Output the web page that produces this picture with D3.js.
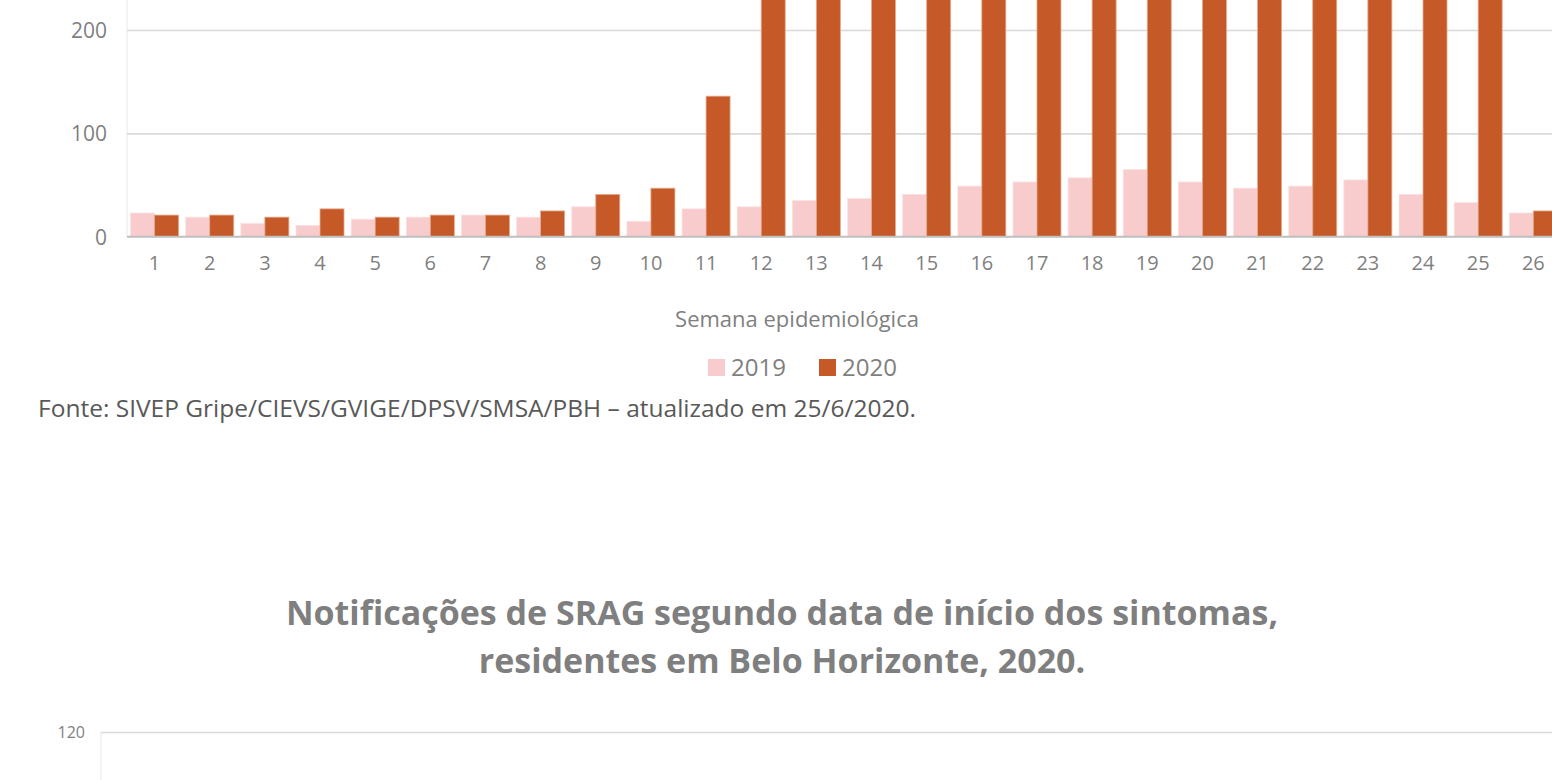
<!DOCTYPE html>
<html>
<head>
<meta charset="utf-8">
<script src="https://cdn.jsdelivr.net/npm/d3@7"></script>
<style>
  html, body { margin: 0; padding: 0; background: #fff; overflow: hidden; }
  svg { display: block; font-family: "Open Sans", sans-serif; }
</style>
</head>
<body>
<div id="chart"></div>
<script>
// Semanas epidemiológicas 1..26
const weeks = d3.range(1, 27).map(String);
const seriesNames = ['2019', '2020'];

// notificações por semana
const values2019 = [23, 19, 13, 11, 17, 19, 21, 19, 29, 15, 27, 29, 35, 37, 41, 49, 53, 57, 65, 53, 47, 49, 55, 41, 33, 23];
// semanas 12-25 de 2020 saem do topo da imagem: valores estimados
const values2020 = [21, 21, 19, 27, 19, 21, 21, 25, 41, 47, 136, 330, 420, 390, 380, 400, 420, 440, 470, 460, 480, 500, 520, 510, 440, 25];

const yTicks = [0, 100, 200, 300, 400, 500, 600];
const yTicks2 = [0, 20, 40, 60, 80, 100, 120];

const title2 = ['Notificações de SRAG segundo data de início dos sintomas,', 'residentes em Belo Horizonte, 2020.'];
const fonte = 'Fonte: SIVEP Gripe/CIEVS/GVIGE/DPSV/SMSA/PBH – atualizado em 25/6/2020.';

const colors = { '2019': '#F8CBCD', '2020': '#C55A28' };

const width = 1552, height = 780;

const svg = d3.select('#chart').append('svg')
    .attr('width', width)
    .attr('height', height);

// only ticks that fall inside the page
const visible = (scale) => (t) => scale(t) >= 10 && scale(t) <= height - 10;

// --- first chart (partially visible) ---
const plotLeft = 127;
const x = d3.scaleBand()
    .domain(weeks)
    .range([plotLeft, plotLeft + 26 * 55.15])
    .paddingInner(0.13)
    .paddingOuter(0.065);

const xSub = d3.scaleBand()
    .domain(seriesNames)
    .range([0, x.bandwidth()]);

const y = d3.scaleLinear()
    .domain([0, 600])
    .range([236.8, 236.8 - 6 * 103.4]);

// light vertical axis line
svg.append('line')
    .attr('x1', plotLeft).attr('x2', plotLeft)
    .attr('y1', 0).attr('y2', y(0))
    .attr('stroke', '#f0f0f0').attr('stroke-width', 1.5);

// gridlines
const yAxis = d3.axisLeft(y)
    .tickValues(yTicks.filter(visible(y)))
    .tickSize(-(width - plotLeft))
    .tickPadding(20);
const gy = svg.append('g')
    .attr('transform', `translate(${plotLeft},0)`)
    .call(yAxis)
    .attr('font-family', null)
    .attr('font-size', 21);
gy.select('.domain').remove();
gy.selectAll('.tick line')
    .attr('stroke', '#d9d9d9')
    .attr('stroke-width', 1.6);
gy.selectAll('.tick text')
    .attr('fill', '#7f7f7f')
    .attr('dy', '0.35em');
gy.selectAll('.tick').filter(d => d === 0).select('line').remove();

// bars
const rows = weeks.map((w, i) => ({ week: w, '2019': values2019[i], '2020': values2020[i] }));

const groups = svg.append('g').selectAll('g')
    .data(rows)
    .join('g')
    .attr('transform', d => `translate(${x(d.week)},0)`);

groups.selectAll('rect')
    .data(d => seriesNames.map(k => ({ key: k, value: d[k] })))
    .join('rect')
    .attr('x', d => xSub(d.key))
    .attr('width', xSub.bandwidth())
    .attr('y', d => y(d.value))
    .attr('height', d => y(0) - y(d.value))
    .attr('fill', d => colors[d.key])
    .attr('stroke', d => d.key === '2020' ? '#e6a88a' : '#fbe0e1')
    .attr('stroke-width', 0.8);

// baseline + x labels
const xAxis = d3.axisBottom(x).tickSize(0).tickPadding(19);
const gx = svg.append('g')
    .attr('transform', `translate(0,${y(0)})`)
    .call(xAxis)
    .attr('font-family', null)
    .attr('font-size', 20);
gx.select('.domain')
    .attr('stroke', '#bfbfbf')
    .attr('stroke-width', 2)
    .attr('d', `M${plotLeft},0H${width}`);
gx.selectAll('.tick text')
    .attr('fill', '#7f7f7f');

// axis title
svg.append('text')
    .attr('x', 797).attr('y', 327)
    .attr('text-anchor', 'middle')
    .attr('fill', '#7f7f7f')
    .style('font-size', '22px')
    .text('Semana epidemiológica');

// legend
const legendPos = { '2019': 708, '2020': 819 };
const legend = svg.append('g').selectAll('g')
    .data(seriesNames)
    .join('g')
    .attr('transform', d => `translate(${legendPos[d]},359)`);
legend.append('rect')
    .attr('width', 17).attr('height', 17)
    .attr('fill', d => colors[d]);
legend.append('text')
    .attr('x', 23).attr('y', 17)
    .attr('fill', '#7f7f7f')
    .style('font-size', '24px')
    .text(d => d);

// source line
svg.append('text')
    .attr('x', 38).attr('y', 417)
    .attr('fill', '#595959')
    .style('font-size', '24.5px')
    .text(fonte);

// --- second chart (only title and top visible) ---
svg.append('g').selectAll('text')
    .data(title2)
    .join('text')
    .attr('x', 782)
    .attr('y', (d, i) => 625 + i * 48)
    .attr('text-anchor', 'middle')
    .attr('fill', '#7f7f7f')
    .style('font-size', '34px')
    .style('font-weight', 'bold')
    .text(d => d);

const plotLeft2 = 101;
const y2 = d3.scaleLinear()
    .domain([0, 120])
    .range([732 + 6 * 90, 732]);

svg.append('line')
    .attr('x1', plotLeft2).attr('x2', plotLeft2)
    .attr('y1', y2(120)).attr('y2', height)
    .attr('stroke', '#f0f0f0').attr('stroke-width', 1.5);

const gy2 = svg.append('g')
    .attr('transform', `translate(${plotLeft2},0)`)
    .call(d3.axisLeft(y2)
        .tickValues(yTicks2.filter(visible(y2)))
        .tickSize(-(width - plotLeft2))
        .tickPadding(16))
    .attr('font-family', null)
    .attr('font-size', 16);
gy2.select('.domain').remove();
gy2.selectAll('.tick line')
    .attr('stroke', '#d9d9d9')
    .attr('stroke-width', 1.6);
gy2.selectAll('.tick text')
    .attr('fill', '#7f7f7f')
    .attr('dy', '0.35em');
</script>
</body>
</html>
